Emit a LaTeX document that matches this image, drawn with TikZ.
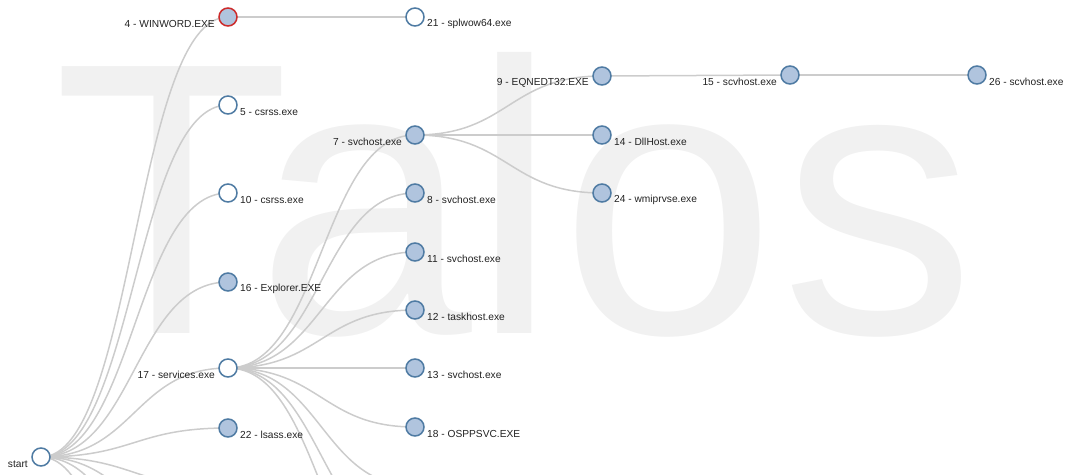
\documentclass[tikz,border=0pt]{standalone}
\usepackage{fontspec}
\setmainfont{Liberation Sans}
\usepackage{xcolor}
\usepackage{tikz}
\usetikzlibrary{backgrounds}
\definecolor{linkgray}{HTML}{CCCCCC}
\definecolor{nodeblue}{HTML}{B0C4DE}
\definecolor{rimblue}{HTML}{4F7BA3}
\definecolor{rimred}{HTML}{CC2B2B}
\definecolor{mark}{HTML}{F1F1F1}
\definecolor{ink}{HTML}{222222}
\pgfdeclarelayer{watermark}
\pgfdeclarelayer{links}
\pgfsetlayers{watermark,links,main}
\tikzset{
  proc/.style={circle, draw=rimblue, line width=1.5pt, fill=white, minimum size=18pt, inner sep=0pt},
  procfull/.style={proc, fill=nodeblue},
  proclive/.style={procfull, draw=rimred},
  link/.style={draw=linkgray, line width=1.5pt},
  lab/.style={text=ink, font=\fontsize{10.2}{12}\selectfont, inner sep=0pt},
  labr/.style={lab, anchor=west, xshift=12pt, yshift=-7pt},
  labl/.style={lab, anchor=east, xshift=-13pt, yshift=-7pt},
  wmletter/.style={text=mark, font=\fontsize{388}{388}\selectfont, inner sep=0pt, anchor=base west},
}
\newcommand{\treelink}[2]{\draw[link] (#1.center) .. controls +(93.5,0) and +(-93.5,0) .. (#2.center);}

\begin{document}
\begin{tikzpicture}[x=1pt, y=-1pt]
  \useasboundingbox (0,0) rectangle (1065,474);

  % big faint name behind the tree
  \begin{pgfonlayer}{watermark}
    \clip (0,0) rectangle (1065,474);
    \node[wmletter] (wmT) at (53,333) {T};
    \node[wmletter] (wmA) at (256,333) {a};
    \node[wmletter] (wmL) at (471,333) {l};
    \node[wmletter] (wmO) at (560,333) {o};
    \node[wmletter] (wmS) at (781,333) {s};
  \end{pgfonlayer}

  % depth 0 and 1
  \node[proc] (start) at (41,457) {};
  \node[proclive] (n4) at (228,17) {};
  \node[proc] (n5) at (228,105) {};
  \node[proc] (n10) at (228,193) {};
  \node[procfull] (n16) at (228,282) {};
  \node[proc] (n17) at (228,368) {};
  \node[procfull] (n22) at (228,428) {};
  \coordinate (s1) at (228,488);
  \coordinate (s2) at (228,547);
  \coordinate (s3) at (228,650);
  \coordinate (s4) at (228,897);

  % depth 2
  \node[proc] (n21) at (415,17) {};
  \node[procfull] (n7) at (415,135) {};
  \node[procfull] (n8) at (415,193) {};
  \node[procfull] (n11) at (415,252) {};
  \node[procfull] (n12) at (415,310) {};
  \node[procfull] (n13) at (415,368) {};
  \node[procfull] (n18) at (415,427) {};
  \coordinate (v1) at (415,486);
  \coordinate (v2) at (415,544);
  \coordinate (v3) at (415,603);

  % depth 3 and on
  \node[procfull] (n9) at (602,76) {};
  \node[procfull] (n14) at (602,135) {};
  \node[procfull] (n24) at (602,193) {};
  \node[procfull] (n15) at (790,75) {};
  \node[procfull] (n26) at (977,75) {};

  \begin{pgfonlayer}{links}
    \clip (0,0) rectangle (1065,474);
    \treelink{start}{n4}
    \treelink{start}{n5}
    \treelink{start}{n10}
    \treelink{start}{n16}
    \treelink{start}{n17}
    \treelink{start}{n22}
    \treelink{start}{s1}
    \treelink{start}{s2}
    \treelink{start}{s3}
    \treelink{start}{s4}
    \treelink{n4}{n21}
    \treelink{n17}{n7}
    \treelink{n17}{n8}
    \treelink{n17}{n11}
    \treelink{n17}{n12}
    \treelink{n17}{n13}
    \treelink{n17}{n18}
    \treelink{n17}{v1}
    \treelink{n17}{v2}
    \treelink{n17}{v3}
    \treelink{n7}{n9}
    \treelink{n7}{n14}
    \treelink{n7}{n24}
    \treelink{n9}{n15}
    \treelink{n15}{n26}
  \end{pgfonlayer}

  \node[labl] (tstart) at (start) {start};
  \node[labl] (t4) at (n4) {4 - WINWORD.EXE};
  \node[labr] (t5) at (n5) {5 - csrss.exe};
  \node[labr] (t10) at (n10) {10 - csrss.exe};
  \node[labr] (t16) at (n16) {16 - Explorer.EXE};
  \node[labl] (t17) at (n17) {17 - services.exe};
  \node[labr] (t22) at (n22) {22 - lsass.exe};
  \node[labr] (t21) at (n21) {21 - splwow64.exe};
  \node[labl] (t7) at (n7) {7 - svchost.exe};
  \node[labr] (t8) at (n8) {8 - svchost.exe};
  \node[labr] (t11) at (n11) {11 - svchost.exe};
  \node[labr] (t12) at (n12) {12 - taskhost.exe};
  \node[labr] (t13) at (n13) {13 - svchost.exe};
  \node[labr] (t18) at (n18) {18 - OSPPSVC.EXE};
  \node[labl] (t9) at (n9) {9 - EQNEDT32.EXE};
  \node[labr] (t14) at (n14) {14 - DllHost.exe};
  \node[labr] (t24) at (n24) {24 - wmiprvse.exe};
  \node[labl] (t15) at (n15) {15 - scvhost.exe};
  \node[labr] (t26) at (n26) {26 - scvhost.exe};
\end{tikzpicture}
\end{document}
